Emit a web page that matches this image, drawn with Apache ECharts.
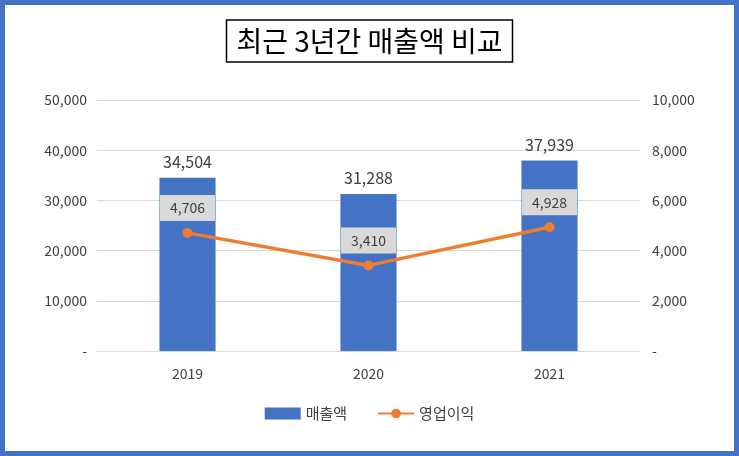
<!DOCTYPE html>
<html>
<head>
<meta charset="utf-8">
<script src="https://cdn.jsdelivr.net/npm/echarts@6/dist/echarts.min.js"></script>
<style>
html,body{margin:0;padding:0;background:#4472c4;}
#wrap{position:absolute;left:5px;top:5px;width:729px;height:446px;background:#fff;}
#echart1{width:739px;height:456px;position:absolute;left:-5px;top:-5px;}
</style>
</head>
<body>
<div id="wrap"><div id="echart1"></div></div>
<script>
var years = ['2019', '2020', '2021'];
var sales = [34504, 31288, 37939];
var profit = [4706, 3410, 4928];

var myChart = echarts.init(document.getElementById('echart1'));
var fmt = function (v) { return v === 0 ? '-' : v.toLocaleString('en-US'); };
var font = '"Noto Sans CJK KR", "Liberation Sans", sans-serif';
option = {
    textStyle: { fontFamily: font },
    title: {
        text: '최근 3년간 매출액 비교',
        left: 'center',
        top: 20,
        padding: [7, 10],
        borderColor: '#000',
        borderWidth: 1.5,
        textStyle: { fontSize: 28, fontWeight: 'normal', color: '#000', fontFamily: font }
    },
    grid: { left: 97, right: 99, top: 100, bottom: 105 },
    legend: {
        bottom: 30,
        itemGap: 30,
        textStyle: { fontSize: 15, color: '#404040' },
        data: [
            { name: '매출액', icon: 'rect' },
            { name: '영업이익' }
        ],
        itemWidth: 36, itemHeight: 12
    },
    xAxis: [{
        type: 'category',
        data: years,
        axisLine: { lineStyle: { color: '#d9d9d9' } },
        axisTick: { show: false },
        axisLabel: { color: '#404040', fontSize: 14, margin: 16 }
    }],
    yAxis: [{
        type: 'value', min: 0, max: 50000, interval: 10000,
        axisLine: { show: false }, axisTick: { show: false },
        axisLabel: { color: '#404040', fontSize: 14, formatter: fmt, margin: 10 },
        splitLine: { lineStyle: { color: '#d9d9d9' } }
    }, {
        type: 'value', min: 0, max: 10000, interval: 2000,
        axisLine: { show: false }, axisTick: { show: false },
        axisLabel: { color: '#404040', fontSize: 14, formatter: fmt, margin: 12 },
        splitLine: { show: false }
    }],
    series: [{
        name: '매출액',
        type: 'bar',
        data: sales,
        barWidth: '31%',
        itemStyle: { color: '#4472c4' },
        label: { show: true, position: 'top', distance: 8, color: '#404040', fontSize: 16, formatter: function (p) { return fmt(p.value); } }
    }, {
        name: '영업이익',
        type: 'line',
        yAxisIndex: 1,
        data: profit,
        symbol: 'circle',
        symbolSize: 10,
        lineStyle: { color: '#ed7d31', width: 3.5 },
        itemStyle: { color: '#ed7d31' },
        label: {
            show: true, position: 'top', distance: 7,
            color: '#404040', fontSize: 14,
            backgroundColor: '#d9d9d9', padding: [6, 10],
            formatter: function (p) { return fmt(p.value); }
        }
    }]
};
myChart.setOption(option);
window.addEventListener("resize", function () { myChart.resize(); });
</script>
</body>
</html>
